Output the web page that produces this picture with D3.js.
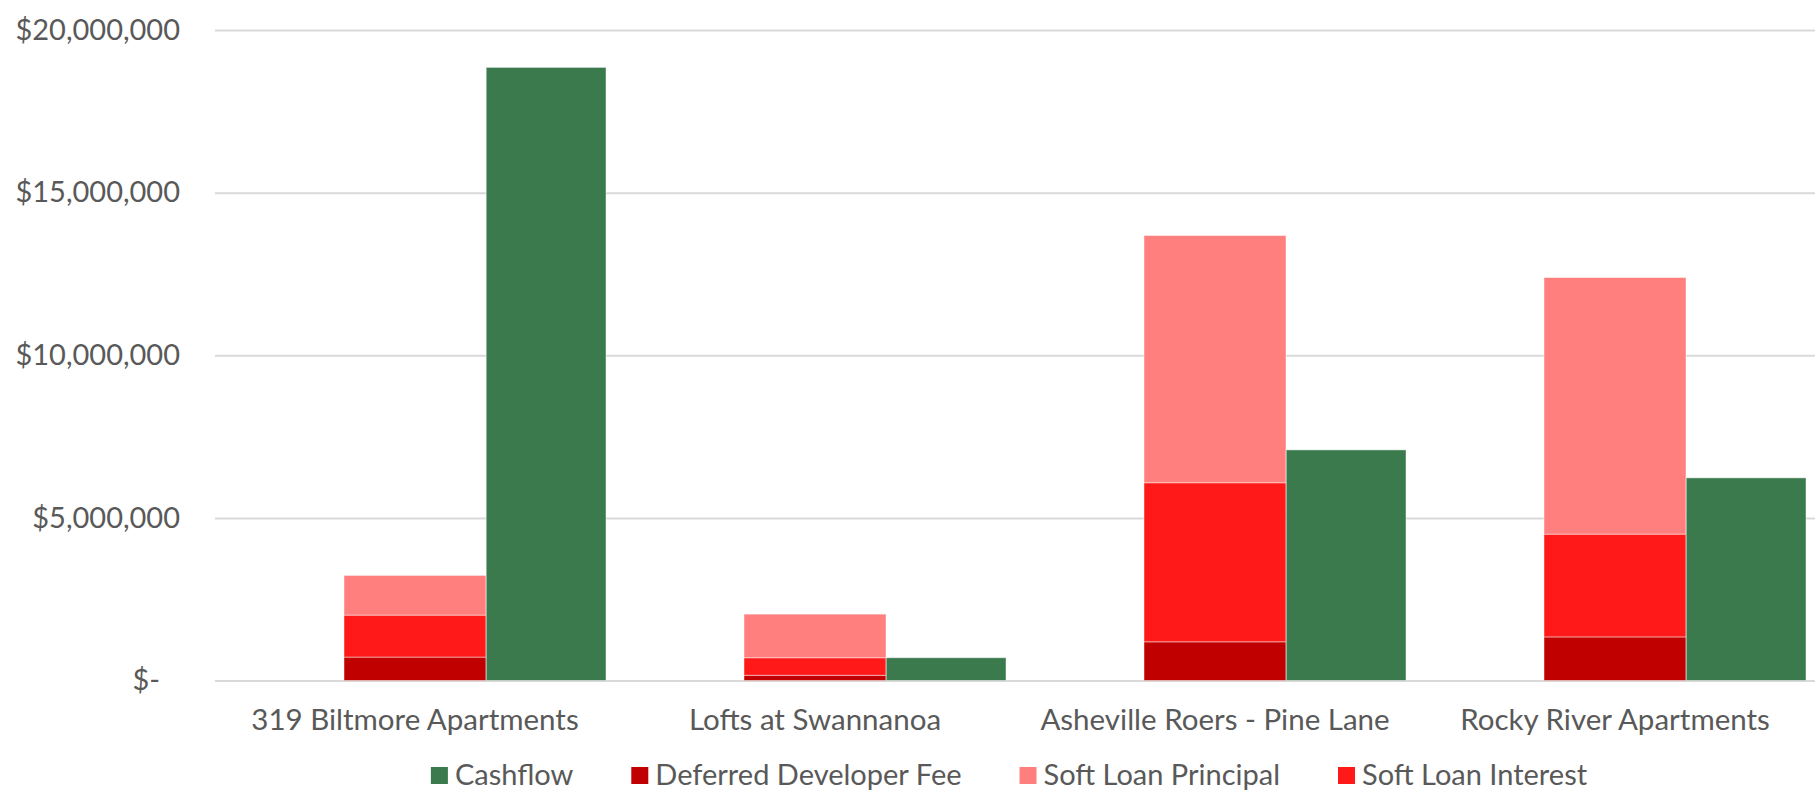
<!DOCTYPE html>
<html>
<head>
<meta charset="utf-8">
<script src="https://cdn.jsdelivr.net/npm/d3@7"></script>
<style>
  html, body { margin: 0; padding: 0; background: #ffffff; }
  svg { display: block; }
  text { font-family: Lato, "Open Sans", sans-serif; fill: #595959; }
</style>
</head>
<body>
<svg id="chart" width="1818" height="799"></svg>
<script>
// ---- Data ----
const categories = ["319 Biltmore Apartments", "Lofts at Swannanoa", "Asheville Roers - Pine Lane", "Rocky River Apartments"];
const cashflow = [18850000, 700000, 7090000, 6230000];
const deferredDeveloperFee = [720000, 160000, 1190000, 1340000];
const softLoanInterest = [1290000, 540000, 4890000, 3160000];
const softLoanPrincipal = [1220000, 1340000, 7600000, 7890000];
const yTicks = [0, 5000000, 10000000, 15000000, 20000000];
const legendLabels = ["Cashflow", "Deferred Developer Fee", "Soft Loan Principal", "Soft Loan Interest"];

// ---- Layout ----
const W = 1818, H = 799;
const plot = { left: 215, right: 1815, top: 30, bottom: 680.5 };
const colors = {
  cashflow: "#3A7A4D",
  fee: "#C00000",
  principal: "#FF7F7F",
  interest: "#FF1919"
};

const svg = d3.select("#chart");

const x = d3.scaleBand().domain(categories).range([plot.left, plot.right]).paddingInner(0).paddingOuter(0);
const y = d3.scaleLinear().domain([0, 20000000]).range([plot.bottom, plot.top]);
// positions inside each category band (fractions of the band)
const inner = d3.scaleLinear().domain([0, 1]).range([0, x.bandwidth()]);
const stackPos = [0.3225, 0.6775];
const cashPos = [0.678, 0.9775];

// gridlines + y labels
const yAxis = d3.axisLeft(y)
  .tickValues(yTicks)
  .tickSize(-(plot.right - plot.left))
  .tickPadding(35)
  .tickFormat(d => d === 0 ? "$-" : "$" + d3.format(",")(d));

const gy = svg.append("g").attr("transform", `translate(${plot.left},0)`).call(yAxis);
gy.select(".domain").remove();
gy.selectAll(".tick line").attr("stroke", "#D9D9D9").attr("stroke-width", 2);
gy.selectAll(".tick text")
  .style("font-size", "29px")
  .attr("fill", "#595959")
  .attr("dx", d => d === 0 ? -20 : 0);

// stacked data
const stackKeys = ["fee", "interest", "principal"];
const stackRows = categories.map((c, i) => ({
  category: c,
  fee: deferredDeveloperFee[i],
  interest: softLoanInterest[i],
  principal: softLoanPrincipal[i]
}));
const series = d3.stack().keys(stackKeys)(stackRows);

const barStroke = "rgba(255,255,255,0.45)";

svg.append("g").selectAll("g")
  .data(series)
  .join("g")
  .attr("fill", s => colors[s.key])
  .selectAll("rect")
  .data(s => s)
  .join("rect")
  .attr("x", d => x(d.data.category) + inner(stackPos[0]))
  .attr("width", inner(stackPos[1]) - inner(stackPos[0]))
  .attr("y", d => y(d[1]))
  .attr("height", d => y(d[0]) - y(d[1]))
  .attr("stroke", barStroke)
  .attr("stroke-width", 1);

svg.append("g").selectAll("rect")
  .data(categories.map((c, i) => ({ category: c, value: cashflow[i] })))
  .join("rect")
  .attr("x", d => x(d.category) + inner(cashPos[0]))
  .attr("width", inner(cashPos[1]) - inner(cashPos[0]))
  .attr("y", d => y(d.value))
  .attr("height", d => y(0) - y(d.value))
  .attr("fill", colors.cashflow)
  .attr("stroke", barStroke)
  .attr("stroke-width", 1);

// category axis
const xAxis = d3.axisBottom(x).tickSize(0).tickPadding(29);
const gx = svg.append("g").attr("transform", `translate(0,${plot.bottom})`).call(xAxis);
gx.select(".domain").remove();
gx.selectAll(".tick text").style("font-size", "29.5px").attr("fill", "#595959");

// legend
const legendColors = [colors.cashflow, colors.fee, colors.principal, colors.interest];
const legend = svg.append("g");
const items = legend.selectAll("g").data(legendLabels).join("g");
items.append("rect")
  .attr("width", 17).attr("height", 17)
  .attr("y", -18)
  .attr("fill", (d, i) => legendColors[i]);
items.append("text")
  .attr("x", 24)
  .attr("y", 0)
  .style("font-size", "29px")
  .text(d => d);
const legendGap = 58;
let cx = 0;
const offsets = [];
items.each(function () {
  offsets.push(cx);
  const w = d3.select(this).select("text").node().getComputedTextLength();
  cx += 24 + w + legendGap;
});
const totalW = cx - legendGap;
const startX = 1009 - totalW / 2;
items.attr("transform", (d, i) => `translate(${startX + offsets[i]},785)`);
</script>
</body>
</html>
